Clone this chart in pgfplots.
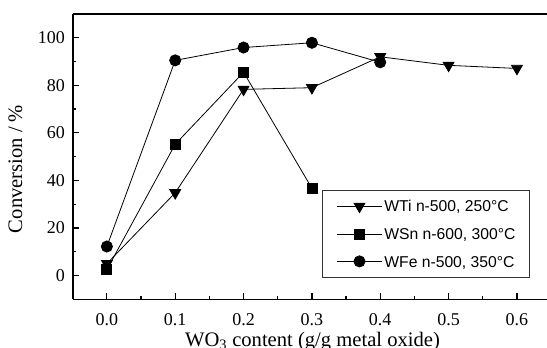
\documentclass[border=0pt]{standalone}
\usepackage{fontspec}
\setmainfont{Liberation Serif}
\newfontfamily\legfont{Liberation Sans}
\usepackage{pgfplots}
\pgfplotsset{compat=1.18}
\begin{document}
\begin{tikzpicture}
\begin{axis}[
  scale only axis,
  width=474.3pt, height=285.3pt,
  xmin=-0.05, xmax=0.644, ymin=-10, ymax=110,
  axis x line=box, axis y line=left,
  y axis line style={-},
  axis line style={line width=1.6pt},
  xtick pos=bottom, ytick pos=left,
  tick align=inside,
  xtick={0,0.1,0.2,0.3,0.4,0.5,0.6},
  ytick={0,20,40,60,80,100},
  minor x tick num=1, minor y tick num=1,
  major tick length=6.5pt, minor tick length=3.5pt,
  every tick/.style={black, line width=1.2pt},
  /pgf/number format/assume math mode=true,
  tick label style={font=\fontsize{18}{21}\selectfont},
  xticklabel style={inner sep=0pt, anchor=north, yshift=-14pt, /pgf/number format/.cd, fixed, fixed zerofill, precision=1},
  yticklabel style={inner sep=0pt, anchor=east, xshift=-7.7pt},
  label style={font=\fontsize{20.6}{24}\selectfont},
  xlabel={WO\textsubscript{3} content (g/g metal oxide)},
  ylabel={Conversion / \%},
  xlabel style={at={(axis description cs:0.5056,-0.1645)}, anchor=base, inner sep=0pt},
  ylabel style={at={(axis description cs:-0.121,0.457)}, anchor=center, inner sep=0pt},
  legend cell align=left,
  legend style={at={(axis description cs:0.526,0.383)}, anchor=north west,
    draw=black!80, line width=0.7pt, fill=white,
    inner xsep=14.4pt, inner ysep=10.3pt,
    font=\legfont\fontsize{15.7}{18}\selectfont,
    row sep=15.9pt, column sep=2.3pt,
    nodes={inner sep=0pt, text height=11.3pt, text depth=0pt}},
  legend image code/.code={%
    \draw[mark repeat=2, mark phase=2, #1] plot coordinates {(0pt,0pt) (22.15pt,0pt) (44.3pt,0pt)};},
]
\addplot[black, line width=0.8pt, mark=triangle*, mark size=6.3pt, mark options={rotate=180, solid, fill=black}]
  coordinates {(0,5) (0.1,34.8) (0.2,78.3) (0.3,79) (0.4,92) (0.5,88.4) (0.6,87.1)};
\addlegendentry{WTi n-500, 250°C}
\addplot[black, line width=0.8pt, mark=square*, mark size=5pt, mark options={solid, fill=black}]
  coordinates {(0,2.5) (0.1,55.2) (0.2,85.5) (0.3,36.7)};
\addlegendentry{WSn n-600, 300°C}
\addplot[black, line width=0.8pt, mark=*, mark size=5.6pt, mark options={solid, fill=black}]
  coordinates {(0,12.2) (0.1,90.5) (0.2,95.9) (0.3,97.9) (0.4,89.7)};
\addlegendentry{WFe n-500, 350°C}
\end{axis}
\pgfresetboundingbox
\path ([shift={(-72.7pt,14pt)}]current axis.north west) rectangle ([shift={(0pt,-47.7pt)}]current axis.south east);
\end{tikzpicture}
\end{document}
